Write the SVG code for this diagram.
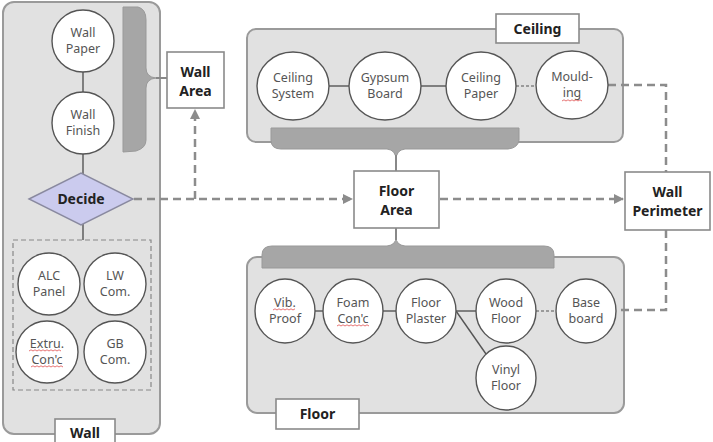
<svg xmlns="http://www.w3.org/2000/svg" width="713" height="442" viewBox="0 0 713 442">
<defs>
<style>
.panel{fill:#e1e1e1;stroke:#9a9a9a;stroke-width:2}
.brace{fill:#a6a6a6;stroke:#999;stroke-width:1}
.node{fill:#fff;stroke:#555;stroke-width:1.4}
.box{fill:#fff;stroke:#8a8a8a;stroke-width:1.6}
.t{font-family:"Noto Sans","Open Sans",sans-serif;font-size:12.5px;fill:#555;text-anchor:middle}
.b{font-family:"Noto Sans","Open Sans",sans-serif;font-size:14px;font-weight:bold;fill:#222;text-anchor:middle}
.solid{stroke:#555;stroke-width:1.4;fill:none}
.dot{stroke:#555;stroke-width:1.2;stroke-dasharray:3,2;fill:none}
.dash{stroke:#8c8c8c;stroke-width:2.5;stroke-dasharray:8,5;fill:none}
.sq{stroke:#e05050;stroke-width:0.8;fill:none}
</style>
<marker id="ah" viewBox="0 0 10 10" refX="9" refY="5" markerWidth="4" markerHeight="4" orient="auto" markerUnits="strokeWidth">
<path d="M0,0 L10,5 L0,10 z" fill="#8c8c8c"/>
</marker>
</defs>

<g id="wall-panel">
<rect class="panel" x="3" y="2" width="157" height="432" rx="11"/>
<path class="brace" d="M123,7 L138,7 Q146,9 146,20 L146,68 Q146,77 156,78 L167,78 L156,78 Q146,79 146,88 L146,140 Q146,148 136,151 L123,152 Z"/>
<line x1="156" y1="78" x2="167" y2="78" stroke="#888" stroke-width="2"/>
<rect x="13" y="240" width="138" height="150" fill="none" stroke="#888" stroke-width="1.2" stroke-dasharray="5,3"/>
<rect class="box" x="55" y="419" width="60" height="30"/>
<text class="b" x="85" y="438">Wall</text>
</g>

<g id="ceiling-panel">
<rect class="panel" x="247" y="29" width="376" height="113" rx="9"/>
<path class="brace" d="M271,128 L519,128 L519,140 Q518,148 508,149 L405,149 Q396,150 396,160 L396,171 L396,160 Q396,150 387,149 L281,149 Q271,149 271,140 Z"/>
<line x1="396" y1="155" x2="396" y2="172" stroke="#888" stroke-width="2"/>
<rect class="box" x="496" y="14" width="83" height="29"/>
<text class="b" x="537.5" y="34">Ceiling</text>
</g>

<g id="floor-panel">
<rect class="panel" x="247" y="257" width="377" height="156" rx="10"/>
<path class="brace" d="M262,268 L262,255 Q262,246 272,246 L387,246 Q396,245 396,237 L396,228 L396,237 Q396,245 405,246 L544,246 Q554,246 554,255 L554,268 Z"/>
<line x1="396" y1="228" x2="396" y2="240" stroke="#888" stroke-width="2"/>
<rect class="box" x="276" y="399" width="83" height="30"/>
<text class="b" x="317.5" y="419">Floor</text>
</g>

<g id="connectors">
<line class="solid" x1="83" y1="72" x2="83" y2="92"/>
<line class="solid" x1="83" y1="154" x2="83" y2="174"/>
<line class="solid" x1="83" y1="224" x2="83" y2="240"/>
<line class="solid" x1="329" y1="86" x2="349" y2="86"/>
<line class="solid" x1="421" y1="86" x2="446" y2="86"/>
<line class="dot" x1="516" y1="86" x2="536" y2="86"/>
<line class="solid" x1="315" y1="311" x2="323" y2="311"/>
<line class="solid" x1="383" y1="311" x2="396" y2="311"/>
<line class="solid" x1="456" y1="311" x2="476" y2="311"/>
<line class="solid" x1="456" y1="311" x2="486" y2="354"/>
<line class="dot" x1="536" y1="311" x2="556" y2="311"/>
<path class="dash" d="M134,199 L352,199" marker-end="url(#ah)"/>
<path class="dash" d="M195,199 L195,110" marker-end="url(#ah)"/>
<path class="dash" d="M440,199 L623,199" marker-end="url(#ah)"/>
<path class="dash" d="M608,85 L666,85 L666,172"/>
<path class="dash" d="M666,230 L666,310 L617,310"/>
</g>

<g id="wall-paper"><circle class="node" cx="83" cy="41" r="31"/><text class="t" x="83" y="37">Wall</text><text class="t" x="83" y="53">Paper</text></g>
<g id="wall-finish"><circle class="node" cx="83" cy="123" r="31"/><text class="t" x="83" y="119">Wall</text><text class="t" x="83" y="135">Finish</text></g>
<g id="decide"><polygon points="29,199 81,173 133,199 81,225" fill="#cbcbee" stroke="#8a8aa0" stroke-width="1.4"/><text class="b" x="81" y="204" fill="#223">Decide</text></g>
<g id="wall-area"><rect class="box" x="167" y="52" width="57" height="56"/><text class="b" x="195.5" y="77">Wall</text><text class="b" x="195.5" y="96">Area</text></g>

<g id="alc-panel"><circle class="node" cx="49" cy="284" r="31"/><text class="t" x="49" y="280">ALC</text><text class="t" x="49" y="296">Panel</text></g>
<g id="lw-com"><circle class="node" cx="115" cy="284" r="31"/><text class="t" x="115" y="280">LW</text><text class="t" x="115" y="296">Com.</text></g>
<g id="extru-conc"><circle class="node" cx="47" cy="352" r="31"/><text class="t" x="47" y="348">Extru.</text><text class="t" x="47" y="364">Con'c</text>
<path class="sq" d="M29,351 l2,-1.2 l2,1.2 l2,-1.2 l2,1.2 l2,-1.2 l2,1.2 l2,-1.2 l2,1.2 l2,-1.2 l2,1.2 l2,-1.2 l2,1.2 l2,-1.2 l2,1.2 l2,-1.2 l2,1.2"/>
<path class="sq" d="M31,367 l2,-1.2 l2,1.2 l2,-1.2 l2,1.2 l2,-1.2 l2,1.2 l2,-1.2 l2,1.2 l2,-1.2 l2,1.2 l2,-1.2 l2,1.2 l2,-1.2 l2,1.2 l2,-1.2 l2,1.2"/></g>
<g id="gb-com"><circle class="node" cx="115" cy="352" r="31"/><text class="t" x="115" y="348">GB</text><text class="t" x="115" y="364">Com.</text></g>

<g id="ceiling-system"><ellipse class="node" cx="293" cy="86" rx="36" ry="34"/><text class="t" x="293" y="82">Ceiling</text><text class="t" x="293" y="98">System</text></g>
<g id="gypsum-board"><ellipse class="node" cx="385" cy="86" rx="36" ry="34"/><text class="t" x="385" y="82">Gypsum</text><text class="t" x="385" y="98">Board</text></g>
<g id="ceiling-paper"><ellipse class="node" cx="481" cy="86" rx="35" ry="34"/><text class="t" x="481" y="82">Ceiling</text><text class="t" x="481" y="98">Paper</text></g>
<g id="moulding"><ellipse class="node" cx="572" cy="85" rx="36" ry="34"/><text class="t" x="572" y="81">Mould-</text><text class="t" x="572" y="97">ing</text>
<path class="sq" d="M562,101 l2,-1.2 l2,1.2 l2,-1.2 l2,1.2 l2,-1.2 l2,1.2 l2,-1.2 l2,1.2 l2,-1.2 l2,1.2"/></g>
<g id="floor-area"><rect class="box" x="354" y="171" width="85" height="57"/><text class="b" x="396.5" y="196">Floor</text><text class="b" x="396.5" y="215">Area</text></g>
<g id="wall-perimeter"><rect class="box" x="625" y="172" width="85" height="58"/><text class="b" x="667.5" y="197">Wall</text><text class="b" x="667.5" y="216">Perimeter</text></g>

<g id="vib-proof"><ellipse class="node" cx="285" cy="311" rx="30" ry="32"/><text class="t" x="285" y="307">Vib.</text><text class="t" x="285" y="323">Proof</text>
<path class="sq" d="M273,310 l2,-1.2 l2,1.2 l2,-1.2 l2,1.2 l2,-1.2 l2,1.2 l2,-1.2 l2,1.2 l2,-1.2 l2,1.2 l2,-1.2"/></g>
<g id="foam-conc"><ellipse class="node" cx="353" cy="311" rx="30" ry="32"/><text class="t" x="353" y="307">Foam</text><text class="t" x="353" y="323">Con'c</text>
<path class="sq" d="M337,326 l2,-1.2 l2,1.2 l2,-1.2 l2,1.2 l2,-1.2 l2,1.2 l2,-1.2 l2,1.2 l2,-1.2 l2,1.2 l2,-1.2 l2,1.2 l2,-1.2 l2,1.2 l2,-1.2 l2,1.2"/></g>
<g id="floor-plaster"><ellipse class="node" cx="426" cy="311" rx="30" ry="32"/><text class="t" x="426" y="307">Floor</text><text class="t" x="426" y="323">Plaster</text></g>
<g id="wood-floor"><ellipse class="node" cx="506" cy="311" rx="30" ry="32"/><text class="t" x="506" y="307">Wood</text><text class="t" x="506" y="323">Floor</text></g>
<g id="base-board"><ellipse class="node" cx="586" cy="311" rx="30" ry="32"/><text class="t" x="586" y="307">Base</text><text class="t" x="586" y="323">board</text></g>
<g id="vinyl-floor"><ellipse class="node" cx="506" cy="378" rx="30" ry="32"/><text class="t" x="506" y="374">Vinyl</text><text class="t" x="506" y="390">Floor</text></g>
</svg>
